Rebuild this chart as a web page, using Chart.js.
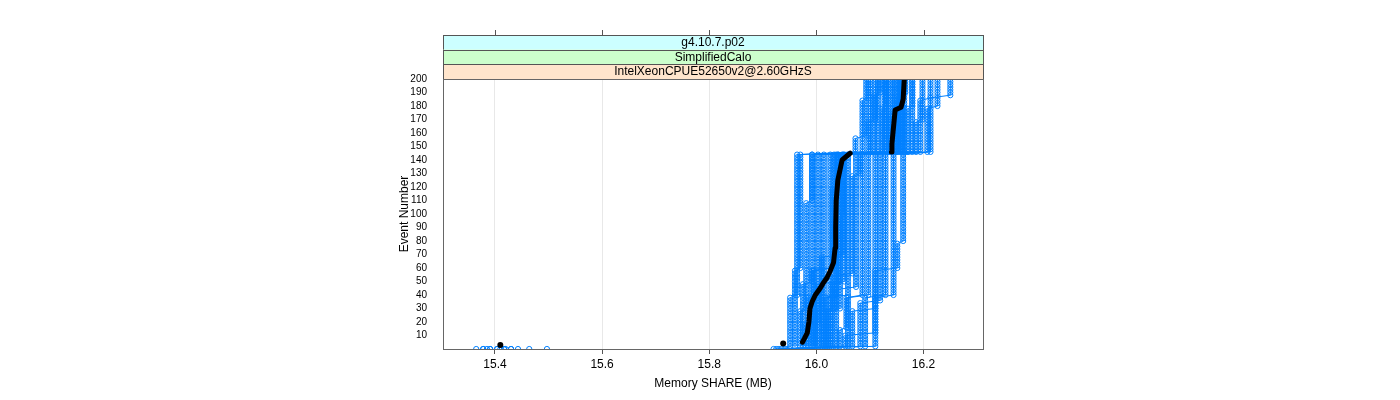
<!DOCTYPE html>
<html><head><meta charset="utf-8">
<script src="https://cdn.jsdelivr.net/npm/chart.js@4/dist/chart.umd.min.js"></script>
<style>html,body{margin:0;padding:0;background:#fff;}#wrap{width:1400px;height:400px;}</style>
</head><body><div id="wrap"><canvas id="c" width="1400" height="400"></canvas></div>
<script>
// ---- text / tick data ----
const stripLabels = ["g4.10.7.p02", "SimplifiedCalo", "IntelXeonCPUE52650v2@2.60GHzS"];
const stripColors = ["#ccffff", "#ccffcc", "#ffe5cc"];
const xTicks = [15.4, 15.6, 15.8, 16.0, 16.2];
const yTicks = [10, 20, 30, 40, 50, 60, 70, 80, 90, 100, 110, 120, 130, 140, 150, 160, 170, 180, 190, 200];
const xTitle = "Memory SHARE (MB)";
const yTitle = "Event Number";
const sampledEvents = [];           // a sample every 2 events, as seen in the picture
for (let ev = 0; ev <= 200; ev += 2) sampledEvents.push(ev);

// ---- runs: change points [event, memory MB]; value holds until the next change point ----
const run01 = [[0, 15.365], [2, 15.951], [40, 15.964], [146, 16.073], [158, 16.093]];
const run02 = [[0, 15.378], [2, 15.960], [60, 15.970], [146, 16.086], [185, 16.097]];
const run03 = [[0, 15.391], [2, 15.970], [30, 15.981], [110, 15.992], [146, 16.101]];
const run04 = [[0, 15.404], [2, 15.975], [50, 15.992], [146, 16.108], [190, 16.119]];
const run05 = [[0, 15.417], [2, 15.981], [20, 16.003], [146, 16.115]];
const run06 = [[0, 15.430], [2, 15.985], [40, 16.014], [146, 16.123], [180, 16.130]];
const run07 = [[0, 15.443], [2, 15.992], [60, 16.026], [146, 16.130]];
const run08 = [[0, 15.404], [2, 15.998], [30, 16.033], [146, 16.138], [175, 16.147]];
const run09 = [[0, 15.391], [2, 16.003], [50, 16.041], [146, 16.142]];
const run10 = [[0, 15.417], [2, 16.010], [70, 16.050], [146, 16.147], [180, 16.157]];
const run11 = [[0, 15.430], [2, 16.018], [40, 16.059], [146, 16.153]];
const run12 = [[0, 15.378], [2, 16.026], [55, 16.067], [130, 16.082], [146, 16.158], [190, 16.166]];
const run13 = [[0, 15.920], [2, 16.037], [45, 16.074], [146, 16.164]];
const run14 = [[0, 15.930], [2, 16.044], [15, 16.056], [40, 16.086], [146, 16.171], [180, 16.179]];
const run15 = [[0, 15.940], [2, 16.059], [40, 16.097], [146, 16.179]];
const run16 = [[0, 15.950], [2, 16.067], [30, 16.110], [146, 16.186], [170, 16.198]];
const run17 = [[0, 15.925], [2, 16.091], [40, 16.129], [146, 16.194], [185, 16.213]];
const run18 = [[0, 15.935], [2, 16.110], [40, 16.144], [146, 16.207], [180, 16.226]];
const run19 = [[0, 15.464], [2, 16.054], [12, 16.110], [60, 16.151], [80, 16.162], [146, 16.213], [187, 16.250]];
const run20 = [[0, 15.497], [2, 16.082], [35, 16.119], [146, 16.097], [170, 16.110]];
const run21 = [[0, 15.385], [2, 16.014], [40, 16.037], [146, 16.135]];
const run22 = [[0, 15.410], [2, 16.022], [30, 16.044], [100, 16.048], [146, 16.150], [185, 16.160]];
const run23 = [[0, 15.945], [2, 16.030], [50, 16.052], [146, 16.160]];
const run24 = [[0, 15.420], [2, 15.995], [60, 16.030], [120, 16.040], [146, 16.127]];
const runs = [run01, run02, run03, run04, run05, run06, run07, run08, run09, run10, run11, run12,
              run13, run14, run15, run16, run17, run18, run19, run20, run21, run22, run23, run24];

// ---- black reference line [event, memory]; null = no line drawn ----
const medianLine = [[5, 15.974], [8, 15.978], [12, 15.983], [20, 15.986], [30, 15.988], [35, 15.992],
  [40, 15.998], [45, 16.007], [49, 16.013], [53, 16.020], [58, 16.026], [64, 16.032], [75, 16.035],
  [90, 16.036], [110, 16.037], [125, 16.040], [140, 16.048], [145, 16.063], null,
  [146, 16.140], [152, 16.141], [177, 16.147], [179, 16.158], [185, 16.162], [200, 16.164]];
const medianDots = [[3, 15.410], [4, 15.938]];

// ---- build ----
function expandRun(cp) {
  const out = [];
  let k = 0;
  sampledEvents.forEach(ev => {
    while (k + 1 < cp.length && cp[k + 1][0] <= ev) k++;
    out.push({x: cp[k][1], y: ev});
  });
  return out;
}
const BLUE = "#0080ff";
const FONT = "'Liberation Sans', Arial, Helvetica, sans-serif";
Chart.defaults.font.family = FONT;
Chart.defaults.color = "#000";

const datasets = [];
datasets.push({
  data: medianDots.map(p => ({x: p[1], y: p[0]})),
  showLine: false, pointRadius: 3, pointBackgroundColor: "#000", pointBorderColor: "#000",
  pointBorderWidth: 0, clip: 0
});
let prevX = 16;
datasets.push({
  data: medianLine.map(p => { if (p === null) return {x: prevX, y: null}; prevX = p[1]; return {x: p[1], y: p[0]}; }),
  borderColor: "#000", borderWidth: 5, borderCapStyle: "round", borderJoinStyle: "round",
  pointRadius: 0, spanGaps: false, clip: 0, tension: 0
});
runs.forEach(r => datasets.push({
  data: expandRun(r),
  borderColor: BLUE, borderWidth: 1, tension: 0,
  pointRadius: 2.6, pointBorderWidth: 1, pointBorderColor: BLUE,
  pointBackgroundColor: "rgba(0,0,0,0)", clip: 0,
  segment: {borderColor: ctx => Math.abs(ctx.p1.parsed.x - ctx.p0.parsed.x) > 0.3 ? "rgba(0,0,0,0)" : undefined}
}));

const framePlugin = {
  id: "frame",
  afterDatasetsDraw(chart) {
    const {ctx, chartArea: a, scales} = chart;
    ctx.save();
    const h = (a.top - 35) / 3;
    for (let i = 0; i < 3; i++) {
      const y0 = 35 + i * h;
      ctx.fillStyle = stripColors[i];
      ctx.fillRect(a.left, y0, a.right - a.left, h);
      ctx.strokeStyle = "#555";
      ctx.lineWidth = 1;
      ctx.strokeRect(Math.round(a.left) + 0.5, Math.round(y0) + 0.5, Math.round(a.right - a.left), Math.round(h));
      ctx.fillStyle = "#000";
      ctx.font = "12px " + FONT;
      ctx.textAlign = "center";
      ctx.textBaseline = "middle";
      ctx.fillText(stripLabels[i], (a.left + a.right) / 2, y0 + h / 2 + 0.5);
    }
    ctx.strokeStyle = "#555";
    ctx.beginPath();
    xTicks.forEach(v => {
      const px = Math.round(scales.x.getPixelForValue(v)) + 0.5;
      ctx.moveTo(px, 30); ctx.lineTo(px, 35);
    });
    ctx.stroke();
    ctx.strokeStyle = "#666";
    ctx.strokeRect(Math.round(a.left) + 0.5, Math.round(a.top) + 0.5, Math.round(a.right - a.left), Math.round(a.bottom - a.top));
    ctx.restore();
  }
};

new Chart(document.getElementById("c"), {
  type: "line",
  data: {datasets},
  plugins: [framePlugin],
  options: {
    responsive: false, animation: false, devicePixelRatio: 1,
    layout: {padding: {left: 390, right: 417, top: 79, bottom: 0}},
    plugins: {legend: {display: false}, tooltip: {enabled: false}},
    scales: {
      x: {
        type: "linear", min: 15.303, max: 16.311,
        afterBuildTicks: s => { s.ticks = xTicks.map(v => ({value: v})); },
        afterFit: s => { s.height = 51; },
        ticks: {callback: v => Number(v).toFixed(1), font: {size: 12}, color: "#000", padding: 3, maxRotation: 0, autoSkip: false},
        grid: {color: "#e8e8e8", tickColor: "#555", tickLength: 5, lineWidth: 1},
        border: {display: false},
        title: {display: true, text: xTitle, font: {size: 12}, color: "#000", padding: {top: 0, bottom: 9}}
      },
      y: {
        type: "linear", min: 0, max: 200,
        afterBuildTicks: s => { s.ticks = yTicks.map(v => ({value: v})); },
        afterFit: s => { s.width = 53; },
        ticks: {font: {size: 10}, color: "#000", padding: 8, autoSkip: false},
        grid: {display: false},
        border: {display: false},
        title: {display: true, text: yTitle, font: {size: 12}, color: "#000", padding: {top: 7, bottom: 0}}
      }
    }
  }
});
</script>
</body></html>
